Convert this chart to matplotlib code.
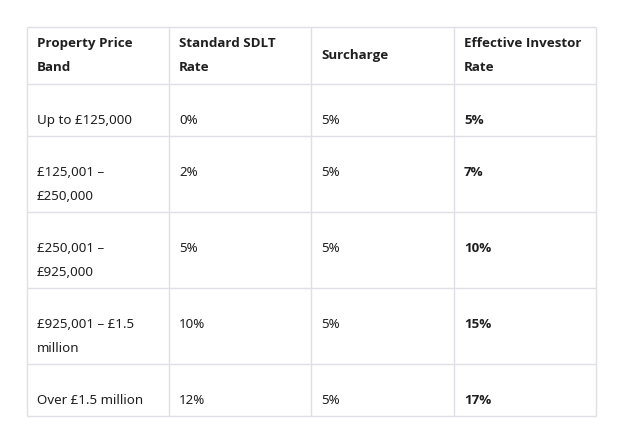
import matplotlib
matplotlib.use("Agg")
import matplotlib.pyplot as plt
from matplotlib import font_manager

# table content
headers = [["Property Price", "Band"], ["Standard SDLT", "Rate"], ["Surcharge"], ["Effective Investor", "Rate"]]
price_bands = [["Up to £125,000"], ["£125,001 –", "£250,000"], ["£250,001 –", "£925,000"],
               ["£925,001 – £1.5", "million"], ["Over £1.5 million"]]
standard_rate = ["0%", "2%", "5%", "10%", "12%"]
surcharge = ["5%", "5%", "5%", "5%", "5%"]
effective_rate = ["5%", "7%", "10%", "15%", "17%"]

# layout in pixels
col_edges = [27, 169, 311, 454, 596]
row_edges = [27, 84, 136, 212, 288, 364, 416]
pad_x = 10
line_gap = 24
first_line = 36
grid_col = "#dfdfe5"
txt_col = "#1f1f1f"
fs = 9.6

# pick a family that really has a bold face
def has_bold(fam):
    try:
        path = font_manager.findfont(font_manager.FontProperties(family=fam, weight="bold"),
                                     fallback_to_default=False)
    except Exception:
        return False
    return "bold" in path.lower()

font = ["Noto Sans", "DejaVu Sans"]
bold_font = font
for fam in ["Noto Sans", "Open Sans", "Lato", "Roboto", "Liberation Sans", "DejaVu Sans"]:
    if has_bold(fam):
        bold_font = [fam, "DejaVu Sans"]
        break

fig = plt.figure(figsize=(6.19, 4.43), dpi=100)
ax = fig.add_axes([0, 0, 1, 1])
ax.set_xlim(0, 619)
ax.set_ylim(443, 0)
ax.axis("off")

ax.hlines(row_edges, col_edges[0], col_edges[-1], color=grid_col, lw=1)
ax.vlines(col_edges, row_edges[0], row_edges[-1], color=grid_col, lw=1)

def put(x, y, s, bold):
    ax.text(x, y, s, ha="left", va="center", fontsize=fs,
            fontweight="bold" if bold else "normal", color=txt_col,
            family=bold_font if bold else font)

# header, vertically centred
mid = (row_edges[0] + row_edges[1]) / 2
for c, lines in enumerate(headers):
    n = len(lines)
    for i, s in enumerate(lines):
        put(col_edges[c] + pad_x, mid + (i - (n - 1) / 2) * line_gap, s, True)

# body rows
for r in range(len(price_bands)):
    y0 = row_edges[r + 1] + first_line
    cells = [price_bands[r], [standard_rate[r]], [surcharge[r]], [effective_rate[r]]]
    for c, lines in enumerate(cells):
        for i, s in enumerate(lines):
            put(col_edges[c] + pad_x, y0 + i * line_gap, s, c == 3)

fig.savefig("out.png", dpi=100)
